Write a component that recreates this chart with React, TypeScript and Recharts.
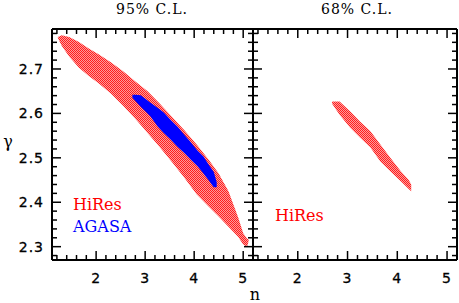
import { ComposedChart, Area, XAxis, YAxis } from "recharts";

// tick values
const steps = (a: number, b: number, s: number) =>
  Array.from({ length: Math.round((b - a) / s) + 1 }, (_, i) => +(a + i * s).toFixed(2));
const nTicks = steps(1.2, 5.0, 0.2);
const nLabels = [2, 3, 4, 5];
const gammaTicks = steps(2.28, 2.78, 0.02);
const gammaLabels = [2.3, 2.4, 2.5, 2.6, 2.7];

// HiRes 95% C.L. region (lower / upper edge of gamma at each n)
const hiRes95N = [1.22, 1.3, 1.45, 1.65, 1.85, 2.05, 2.3, 2.55, 2.8, 3.05, 3.3, 3.55, 3.8, 4.05, 4.3, 4.5, 4.7, 4.9, 5.0, 5.08, 5.11];
const hiRes95Lo = [2.77, 2.752, 2.728, 2.703, 2.684, 2.668, 2.645, 2.617, 2.588, 2.556, 2.524, 2.49, 2.455, 2.418, 2.39, 2.368, 2.345, 2.322, 2.305, 2.3, 2.312];
const hiRes95Hi = [2.772, 2.776, 2.772, 2.761, 2.746, 2.733, 2.715, 2.695, 2.672, 2.65, 2.622, 2.592, 2.562, 2.53, 2.495, 2.465, 2.425, 2.365, 2.33, 2.318, 2.316];

// AGASA 95% C.L. region
const agasaN = [2.74, 2.8, 2.91, 3.11, 3.26, 3.38, 3.52, 3.66, 3.79, 3.93, 4.07, 4.19, 4.28, 4.4, 4.46];
const agasaLo = [2.635, 2.628, 2.615, 2.593, 2.57, 2.556, 2.541, 2.525, 2.512, 2.496, 2.481, 2.465, 2.452, 2.434, 2.434];
const agasaHi = [2.642, 2.642, 2.641, 2.624, 2.612, 2.602, 2.585, 2.57, 2.553, 2.535, 2.516, 2.503, 2.487, 2.468, 2.445];

// HiRes 68% C.L. region
const hiRes68N = [2.69, 2.84, 3.05, 3.25, 3.46, 3.66, 3.86, 4.07, 4.23, 4.28];
const hiRes68Lo = [2.622, 2.597, 2.568, 2.546, 2.523, 2.492, 2.47, 2.447, 2.43, 2.425];
const hiRes68Hi = [2.627, 2.627, 2.605, 2.582, 2.56, 2.53, 2.5, 2.47, 2.45, 2.44];

const band = (ns: number[], lo: number[], hi: number[]) =>
  ns.map((n, i) => ({ n, range: [lo[i], hi[i]] }));

const nDomain = [1.1, 5.2];
const gDomain = [2.27, 2.79];
const tickFont = { fontFamily: "DejaVu Sans", fontSize: 14, letterSpacing: 1 };
const isMajor = (v: number, labels: number[]) => labels.some((l) => Math.abs(l - v) < 1e-6);
const frame = { stroke: "#000", strokeWidth: 2 };

const BottomTick = ({ x, y, payload }: any) => {
  const major = isMajor(payload.value, nLabels);
  return (
    <g>
      <line x1={x} x2={x} y1={y} y2={y - (major ? 9 : 5)} stroke="#000" strokeWidth={1.5} />
      {major && (
        <text x={x} y={y + 23} textAnchor="middle" fill="#000" stroke="#000" strokeWidth={0.3} style={tickFont}>
          {payload.value}
        </text>
      )}
    </g>
  );
};

const TopTick = ({ x, y, payload }: any) => {
  const major = isMajor(payload.value, nLabels);
  return <line x1={x} x2={x} y1={y} y2={y + (major ? 9 : 5)} stroke="#000" strokeWidth={1.5} />;
};

const LeftTick = ({ x, y, payload, showLabel }: any) => {
  const major = isMajor(payload.value, gammaLabels);
  return (
    <g>
      <line x1={x} x2={x + (major ? 9 : 5)} y1={y} y2={y} stroke="#000" strokeWidth={1.5} />
      {major && showLabel && (
        <text x={x - 8} y={y + 5} textAnchor="end" fill="#000" stroke="#000" strokeWidth={0.3} style={tickFont}>
          {payload.value.toFixed(1)}
        </text>
      )}
    </g>
  );
};

const RightTick = ({ x, y, payload }: any) => {
  const major = isMajor(payload.value, gammaLabels);
  return <line x1={x} x2={x - (major ? 9 : 5)} y1={y} y2={y} stroke="#000" strokeWidth={1.5} />;
};

const Panel = ({ width, margin, leftWidth, showY, children }: any) => (
  <ComposedChart width={width} height={303} margin={margin}>
    <XAxis
      dataKey="n"
      type="number"
      domain={nDomain}
      allowDataOverflow
      ticks={nTicks}
      interval={0}
      height={43}
      tickSize={0}
      tickMargin={0}
      tickLine={false}
      axisLine={frame}
      tick={(p: any) => <BottomTick {...p} />}
    />
    <XAxis
      xAxisId="top"
      orientation="top"
      dataKey="n"
      type="number"
      domain={nDomain}
      allowDataOverflow
      ticks={nTicks}
      interval={0}
      height={1}
      tickSize={0}
      tickMargin={0}
      tickLine={false}
      axisLine={frame}
      tick={(p: any) => <TopTick {...p} />}
    />
    <YAxis
      type="number"
      domain={gDomain}
      allowDataOverflow
      ticks={gammaTicks}
      interval={0}
      width={leftWidth}
      tickSize={0}
      tickMargin={0}
      tickLine={false}
      axisLine={frame}
      tick={(p: any) => <LeftTick {...p} showLabel={showY} />}
    />
    <YAxis
      yAxisId="right"
      orientation="right"
      type="number"
      domain={gDomain}
      allowDataOverflow
      ticks={gammaTicks}
      interval={0}
      width={1}
      tickSize={0}
      tickMargin={0}
      tickLine={false}
      axisLine={frame}
      tick={(p: any) => <RightTick {...p} />}
    />
    {children}
  </ComposedChart>
);

const serif = { fontFamily: "DejaVu Serif" };

export default function App() {
  return (
    <div style={{ position: "absolute", left: 0, top: 0, width: 459, height: 303, background: "#fff" }}>
      <svg width={0} height={0} style={{ position: "absolute" }}>
        <defs>
          <pattern id="hatch" width={2} height={2} patternUnits="userSpaceOnUse">
            <rect width={2} height={2} fill="#ff1e1e" />
            <rect x={1} y={0} width={1} height={1} fill="#ff9a9a" />
            <rect x={0} y={1} width={1} height={1} fill="#ff9a9a" />
          </pattern>
        </defs>
      </svg>
      <div style={{ position: "absolute", left: 0, top: 0 }}>
        <Panel width={254} margin={{ top: 28, right: 0, bottom: 0, left: 0 }} leftWidth={52} showY>
          <Area
            data={band(hiRes95N, hiRes95Lo, hiRes95Hi)}
            dataKey="range"
            type="linear"
            stroke="none"
            fill="url(#hatch)"
            fillOpacity={1}
            dot={false}
            activeDot={false}
            isAnimationActive={false}
          />
          <Area
            data={band(agasaN, agasaLo, agasaHi)}
            dataKey="range"
            type="linear"
            stroke="none"
            fill="#0000ff"
            fillOpacity={1}
            dot={false}
            activeDot={false}
            isAnimationActive={false}
          />
        </Panel>
      </div>
      <div style={{ position: "absolute", left: 252, top: 0 }}>
        <Panel width={207} margin={{ top: 28, right: 1, bottom: 0, left: 0 }} leftWidth={1} showY={false}>
          <Area
            data={band(hiRes68N, hiRes68Lo, hiRes68Hi)}
            dataKey="range"
            type="linear"
            stroke="none"
            fill="url(#hatch)"
            fillOpacity={1}
            dot={false}
            activeDot={false}
            isAnimationActive={false}
          />
        </Panel>
      </div>
      <svg width={459} height={303} style={{ position: "absolute", left: 0, top: 0, pointerEvents: "none" }}>
        <text x={152} y={14} textAnchor="middle" fontSize={14} letterSpacing={1} style={serif}>95% C.L.</text>
        <text x={357} y={14} textAnchor="middle" fontSize={14} letterSpacing={1} style={serif}>68% C.L.</text>
        <text x={8} y={147} textAnchor="middle" fontSize={16} style={serif}>γ</text>
        <text x={255} y={300} textAnchor="middle" fontSize={16} style={serif}>n</text>
        <text x={73} y={210} fontSize={16} fill="#ff0000" style={serif}>HiRes</text>
        <text x={73} y={232} fontSize={16} fill="#0000ff" style={serif}>AGASA</text>
        <text x={275} y={221} fontSize={16} fill="#ff0000" style={serif}>HiRes</text>
      </svg>
    </div>
  );
}
